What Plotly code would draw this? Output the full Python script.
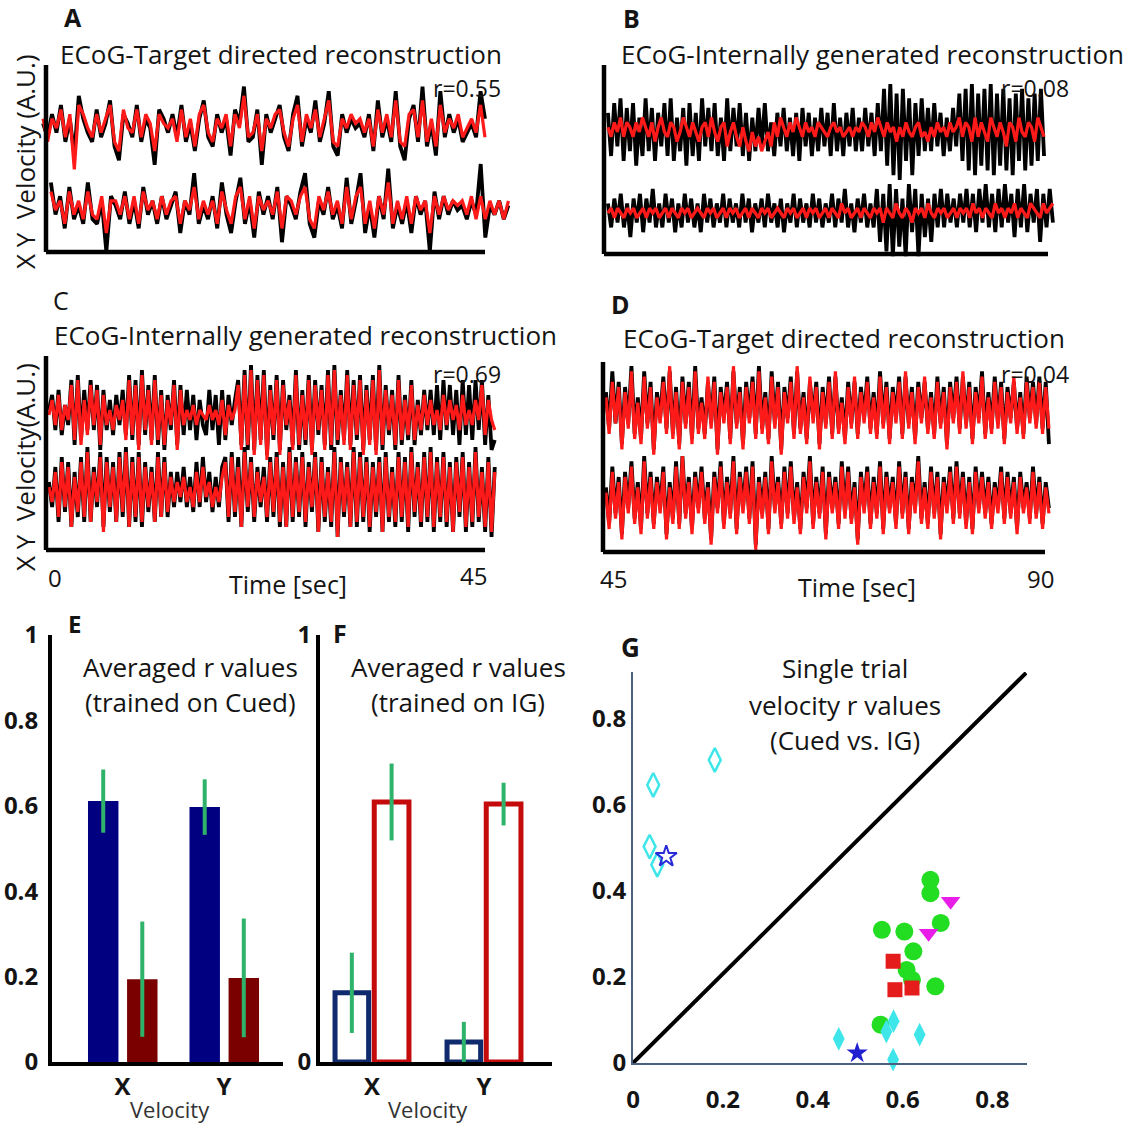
import numpy as np
import plotly.graph_objects as go

W = H = 1124
FONT = "Open Sans"
INK = "#141414"
TRACE_RED = "#ff1a1a"

# ---------------- Panel A: target directed (decoder trained on cued) ----------------
a_x_actual = [1,-2,3,-1,5,-3,2,-6,7,2,-1,-3,4,-2,1,6,-4,-7,3,1,-2,5,-3,2,0,-8,4,2,-1,3,
              -2,5,-3,1,-5,2,6,-2,-4,3,-1,2,-6,4,1,9,-3,-2,4,-8,3,-1,2,5,-2,-5,3,7,-4,2,
              -1,6,-3,1,8,-4,-6,3,-1,2,0,1,-2,3,-5,6,-2,2,-3,8,-4,-7,2,5,-3,9,-4,1,-6,8,
              -2,3,-1,2,-3,-1,1,-2,8,2]
a_x_recon = [2,-3,2,0,4,-2,3,-9,5,3,0,-2,3,-1,2,5,-3,-5,4,0,-1,4,-2,3,1,-5,3,1,0,2,
             -3,4,-2,2,-4,3,5,-1,-3,2,0,3,-4,3,0,7,-2,-1,3,-5,2,0,3,4,-1,-4,2,5,-3,3,
             0,4,-2,2,6,-3,-4,2,0,3,1,2,-1,2,-4,4,-1,3,-2,6,-3,-4,3,4,-2,6,-3,2,-4,5,
             -1,2,0,3,-2,0,2,-1,5,-2]
a_y_actual = [6,-1,3,-4,5,-2,1,-3,6,-2,-3,2,-9,3,1,-2,4,-3,2,-4,5,-1,2,-3,3,-2,1,4,-5,2,
              -1,8,-3,1,-2,3,-4,6,-1,-5,2,7,-3,2,-6,4,-1,3,-2,5,-7,3,1,-2,4,8,-3,-6,2,-1,
              5,-2,1,-4,7,-3,2,8,-5,1,-6,3,-2,9,-4,1,-3,2,-5,3,-1,2,-9,4,-2,3,-1,2,0,1,
              -2,2,-1,10,-6,1,-1,2,-2,1]
a_y_recon = [4,0,2,-3,4,-1,2,-2,4,-1,-2,3,-5,2,2,-1,3,-2,3,-3,4,0,2,-2,3,-1,2,3,-3,2,
             0,5,-2,2,-1,2,-3,4,0,-3,3,5,-2,3,-4,3,0,2,-1,4,-4,3,2,-1,3,5,-2,-4,3,0,
             4,-1,2,-3,5,-2,3,5,-3,2,-4,3,-1,6,-3,2,-2,3,-3,3,0,2,-5,3,-1,3,0,2,1,2,
             -1,3,-2,3,-2,2,-1,2,-2,2]

# ---------------- Panel B: internally generated (decoder trained on cued) ----------------
b_x_actual = [4,-5,6,-3,7,-6,5,-4,6,-7,3,-5,7,-4,5,-6,4,-3,6,-5,7,-6,3,-4,5,-7,6,-5,4,-6,
              7,-3,5,-4,6,-5,3,-6,7,-4,5,-3,6,-5,4,-6,3,-4,5,-3,6,-4,2,-5,4,-3,5,-4,3,-5,
              4,-6,5,-3,4,-5,3,-4,5,-3,4,-5,6,-4,3,-5,4,-3,5,-4,3,-4,5,-3,
              4,-5,6,-4,9,-7,10,-9,8,-10,9,-6,7,-9,6,-5,7,-4,5,-4,6,
              -3,4,-5,3,-4,5,-3,
              8,-6,9,-8,10,-9,8,-7,9,-8,10,-9,8,-7,9,-8,7,-9,8,-6,9,-8,7,-7,8,-6,9,-5]
b_x_recon = [1,-1,2,0,3,-1,2,1,-1,2,0,3,1,-1,2,-2,1,3,0,-1,2,1,-2,0,3,1,-1,2,0,-2,
             1,2,-1,3,0,-2,1,2,-3,0,2,-1,-3,1,-2,-4,0,-3,-1,-4,-2,0,-3,2,-1,3,1,-1,2,0,
             3,1,-1,2,0,1,-1,2,1,0,-1,1,2,0,1,-1,0,1,-1,1,0,2,1,-1,
             2,0,3,1,-1,2,0,1,-2,1,-1,2,0,-1,1,2,-1,0,-2,1,-1,
             2,0,1,-1,2,0,1,
             3,-1,2,1,-2,3,-1,2,0,-2,3,1,-1,2,0,-3,2,1,-2,3,0,-1,2,1,-2,3,1,-1]
b_y_actual = [2,-3,3,-2,4,-3,2,-5,3,-2,4,-4,3,-2,5,-3,2,-3,4,-2,3,-4,2,-3,4,-2,3,-3,2,-4,
              4,-2,3,-3,2,-2,4,-3,3,-2,2,-3,4,-2,3,-4,2,-2,3,-3,4,-2,2,-3,3,-4,2,-2,4,-3,
              3,-2,2,-3,4,-2,3,-3,2,-2,4,-3,3,-2,5,-3,2,-4,3,-2,4,-3,2,-3,
              5,-6,4,-8,6,-9,5,-7,3,-9,6,-4,5,-9,4,-5,3,-6,4,-3,5,
              -3,4,-2,3,-3,4,-2,
              5,-3,4,-4,5,-2,6,-3,4,-4,5,-3,6,-2,4,-5,5,-3,6,-4,4,-2,5,-6,4,-3,5,-2]
b_y_recon = [0,1,-1,1,0,-1,1,0,1,-1,0,1,-1,1,0,1,-1,0,1,-1,1,0,-1,1,0,1,-1,0,1,0,
             -1,1,0,1,-1,0,1,-1,1,0,1,-1,0,1,-1,1,0,-1,1,0,1,-1,0,1,0,-1,1,0,1,-1,
             0,1,-1,1,0,1,-1,0,1,-1,1,0,-1,2,0,1,-1,0,1,-1,1,0,-1,1,
             0,1,-2,1,0,-1,2,0,-1,1,0,-2,1,0,1,-1,2,0,-1,1,0,
             1,-1,0,1,-1,1,0,
             1,-1,2,0,1,-1,1,0,-1,2,0,1,-1,1,0,2,-1,1,0,-1,2,1,0,-1,2,0,1,2]

# ---------------- Panel C: internally generated (decoder trained on IG) ----------------
c_x_actual = [1,4,-3,5,-4,2,-2,
              7,-6,8,-5,5,-3,7,-3,6,-7,5,-3,3,-4,4,-2,5,-4,8,-5,7,-6,9,-4,6,-5,8,-6,5,-7,4,-3,7,-6,6,
              -4,5,-3,4,-5,3,-2,-4,5,-3,4,-6,5,-5,4,-2,3,
              7,-6,9,-7,10,-7,8,-5,9,-8,6,-5,8,-7,7,-3,4,-6,9,-7,5,-6,8,-7,7,-4,6,-6,9,-7,
              10,-6,5,-5,9,-6,7,-5,8,-7,6,-5,8,-7,10,-7,6,-4,5,-7,8,-6,4,-5,7,-6,3,-4,5,-3,
              5,-4,6,-5,7,-3,6,-4,5,-6,7,-4,6,-5,7,-3,7,-6,4,-7,-5]
c_x_recon = [0,3,-2,4,-3,2,-1,
             6,-5,7,-6,3,-4,6,-2,5,-6,4,-2,1,-3,2,-1,3,-5,7,-4,6,-7,8,-3,5,-6,7,-5,4,-6,3,-2,6,-7,5,
             -2,1,-1,2,-2,1,0,-1,2,-1,1,-2,3,-4,2,-1,1,
             6,-7,8,-6,9,-8,7,-6,8,-9,5,-4,7,-8,6,-2,3,-7,8,-6,4,-5,7,-8,6,-3,5,-7,8,-6,
             9,-5,4,-6,8,-7,6,-4,7,-8,5,-6,7,-8,9,-6,5,-3,4,-6,7,-5,3,-4,6,-5,2,-3,4,-2,
             3,-2,1,-3,4,-2,3,-1,2,-3,4,-2,1,-2,3,-1,6,-4,3,-1,-3]
c_y_actual = [2,-3,5,-6,7,-4,6,-7,4,-5,7,-6,9,-6,5,-3,8,-7,7,-4,6,-6,8,-5,9,-7,7,-6,8,-7,
              6,-4,5,-6,8,-5,7,-5,4,-3,
              4,-2,5,-3,3,-4,6,-3,7,-2,4,-4,3,-3,5,
              7,-6,8,-5,7,-7,9,-4,7,-6,5,-3,5,-6,7,-5,8,-7,6,-7,9,-6,7,-5,8,-7,6,-4,8,-8,
              7,-6,5,-7,9,-9,7,-5,6,-7,9,-7,8,-6,7,
              -8,6,-5,7,-8,8,-6,5,-7,8,-6,7,-8,9,-5,6,-7,8,-6,9,-8,7,-6,8,-7,6,-8,7,-5,8,
              -8,6,-7,9,-6,5,-8,7,-9,5]
c_y_recon = [1,-2,4,-5,6,-3,5,-7,3,-4,6,-5,8,-6,4,-2,7,-8,6,-3,5,-6,7,-4,8,-7,6,-5,7,-6,
             5,-3,4,-6,7,-5,6,-4,3,-2,
             2,-1,3,-2,1,-3,4,-2,5,-1,2,-3,1,-2,3,
             6,-5,7,-4,5,-7,8,-3,6,-5,4,-2,3,-5,6,-4,7,-6,5,-7,8,-5,6,-4,7,-6,5,-3,7,-8,
             6,-5,4,-6,8,-9,6,-4,5,-7,8,-6,7,-5,6,
             -7,5,-4,6,-8,7,-5,4,-6,7,-5,6,-7,8,-4,5,-6,7,-5,8,-7,6,-5,7,-6,5,-8,6,-4,7,
             -7,5,-6,8,-5,4,-7,6,-8,4]

# ---------------- Panel D: target directed (decoder trained on IG) ----------------
d_x_actual = [4,-3,8,-2,6,-6,5,-2,9,-4,3,-5,8,-2,6,-7,4,-1,7,-3,8,-4,5,-6,7,-2,6,-5,9,-3,
              3,-4,6,-2,7,-7,5,-1,6,-5,8,-2,5,-6,6,-1,7,-4,9,-3,4,-5,8,-2,6,-7,5,-1,7,-4,
              8,-3,4,-5,6,-1,6,-6,5,-2,7,-4,7,-3,3,-5,6,-2,6,-4,5,-1,7,-3,4,-4,8,-2,6,-5,
              5,-1,7,-4,7,-2,5,-5,6,-1,6,-3,4,-4,7,-2,5,-6,6,-1,7,-3,7,-2,6,-5,5,-1,8,-4,
              4,-3,7,-2,6,-5,5,-1,6,-3,4,-4,7,-1,6,-2,7,-3,6,-6]
d_x_recon = [3,-4,6,-2,5,-7,4,-3,8,-5,2,-6,7,-3,5,-8,3,-2,6,-4,9,-5,4,-7,6,-3,5,-6,8,-4,
             2,-5,7,-3,6,-8,4,-2,5,-6,9,-3,4,-7,5,-2,6,-5,8,-4,3,-6,7,-3,5,-8,4,-2,6,-5,
             9,-4,3,-6,7,-2,5,-7,4,-3,6,-5,8,-4,2,-6,5,-3,7,-5,4,-2,6,-4,3,-5,7,-3,5,-6,
             4,-2,6,-5,8,-3,4,-6,5,-2,7,-4,3,-5,6,-3,4,-7,5,-2,6,-4,8,-3,5,-6,4,-2,7,-5,
             3,-4,6,-3,5,-6,4,-2,7,-4,3,-5,6,-2,5,-3,6,-4,5,-3]
d_y_actual = [3,-4,7,-2,5,-6,6,-1,8,-3,4,-5,9,-2,6,-4,5,-1,7,-6,4,-3,8,-4,9,-2,5,-5,6,-1,
              7,-3,4,-7,6,-1,8,-4,5,-2,9,-5,6,-1,7,-3,8,-8,5,-2,6,-5,9,-1,5,-4,7,-2,8,-3,
              4,-5,6,-1,9,-4,5,-2,7,-6,6,-1,5,-4,8,-2,7,-3,4,-7,6,-1,7,-4,5,-2,8,-5,6,-1,
              5,-4,8,-2,6,-5,5,-1,9,-3,4,-4,7,-2,6,-6,5,-1,7,-3,8,-2,6,-4,5,-5,7,-1,6,-2,
              5,-4,4,-1,7,-3,6,-2,5,-5,6,-1,4,-3,7,-2,5,-4,4,-1]
d_y_recon = [2,-5,6,-3,4,-7,5,-2,7,-4,3,-6,8,-3,5,-5,4,-2,6,-7,3,-4,7,-5,9,-3,4,-6,5,-2,
             6,-4,3,-8,5,-2,7,-5,4,-3,8,-6,5,-2,6,-4,7,-9,4,-3,5,-6,8,-2,4,-5,6,-3,7,-4,
             3,-6,5,-2,8,-5,4,-3,6,-7,5,-2,4,-5,7,-3,6,-4,3,-8,5,-2,6,-5,4,-3,7,-6,5,-2,
             4,-5,7,-3,5,-6,4,-2,8,-4,3,-5,6,-3,5,-7,4,-2,6,-4,7,-3,5,-5,4,-6,6,-2,5,-3,
             4,-5,3,-2,6,-4,5,-3,4,-6,5,-2,3,-4,6,-3,4,-5,3,-2]

# ---------------- Panels E / F: averaged r values ----------------
velocity_labels = ["X", "Y"]
e_cued_mean = [0.611, 0.597]      # trained on cued, tested on cued
e_cued_err = [0.074, 0.065]
e_ig_mean = [0.194, 0.197]        # trained on cued, tested on IG
e_ig_err = [0.135, 0.139]
f_cued_mean = [0.162, 0.047]      # trained on IG, tested on cued
f_cued_err = [0.094, 0.047]
f_ig_mean = [0.609, 0.604]        # trained on IG, tested on IG
f_ig_err = [0.09, 0.05]
bar_ticks = [0, 0.2, 0.4, 0.6, 0.8, 1]
bar_ticktext = ["0", "0.2", "0.4", "0.6", "0.8", "1"]

# ---------------- Panel G: single-trial r values (Cued vs. IG) ----------------
g_open_diamond_x = [0.045, 0.182, 0.037, 0.054]
g_open_diamond_y = [0.645, 0.703, 0.502, 0.460]
g_open_star_x = [0.074]
g_open_star_y = [0.479]
g_circle_x = [0.662, 0.662, 0.685, 0.554, 0.604, 0.624, 0.609, 0.621, 0.673, 0.551]
g_circle_y = [0.425, 0.394, 0.325, 0.309, 0.305, 0.259, 0.216, 0.193, 0.178, 0.089]
g_triangle_x = [0.707, 0.658]
g_triangle_y = [0.375, 0.301]
g_square_x = [0.579, 0.583, 0.621]
g_square_y = [0.236, 0.170, 0.174]
g_diamond_x = [0.458, 0.580, 0.564, 0.638, 0.579]
g_diamond_y = [0.056, 0.097, 0.073, 0.066, 0.008]
g_star_x = [0.499]
g_star_y = [0.023]
g_diag_x = [0, 0.875]
g_diag_y = [0, 0.905]
g_ticks = [0, 0.2, 0.4, 0.6, 0.8]
g_ticktext = ["0", "0.2", "0.4", "0.6", "0.8"]


def px(x):
    return x / W


def py(y):
    return 1 - y / H


fig = go.Figure()
layout = dict(
    width=W, height=H,
    margin=dict(l=0, r=0, t=0, b=0, pad=0, autoexpand=False),
    paper_bgcolor="white", plot_bgcolor="rgba(0,0,0,0)",
    showlegend=False, font=dict(family=FONT, color=INK),
)
shapes = []
annotations = []


def note(text, x, y, size=22, bold=False, xanchor="center", yanchor="middle", angle=0, color=INK):
    if bold:
        text = "<b>%s</b>" % text
    annotations.append(dict(
        text=text, x=px(x), y=py(y), xref="paper", yref="paper", showarrow=False,
        xanchor=xanchor, yanchor=yanchor, textangle=angle,
        font=dict(family=FONT, size=size, color=color),
    ))


# trace panels: axis box in px, time span, baselines, px per unit, sample spans, data
trace_panels = [
    dict(i=1, l=46, r=485, top=65, bot=252, t0=0, t1=45, xb=128, yb=210, unit=4.6,
         xspan=(-0.3, 45.0), yspan=(0.5, 47.4),
         xa=a_x_actual, xr=a_x_recon, ya=a_y_actual, yr=a_y_recon),
    dict(i=2, l=604, r=1048, top=65, bot=254, t0=0, t1=45, xb=132, yb=213, unit=4.8,
         xspan=(0.4, 44.6), yspan=(0.4, 45.5),
         xa=b_x_actual, xr=b_x_recon, ya=b_y_actual, yr=b_y_recon),
    dict(i=3, l=46, r=485, top=356, bot=550, t0=0, t1=45, xb=415, yb=492, unit=5.0,
         xspan=(0.3, 46.0), yspan=(0.3, 46.0),
         xa=c_x_actual, xr=c_x_recon, ya=c_y_actual, yr=c_y_recon),
    dict(i=4, l=603, r=1045, top=362, bot=552, t0=45, t1=90, xb=413, yb=503, unit=5.2,
         xspan=(45.3, 90.4), yspan=(45.3, 90.4),
         xa=d_x_actual, xr=d_x_recon, ya=d_y_actual, yr=d_y_recon),
]

for p in trace_panels:
    i = p["i"]
    sfx = "" if i == 1 else str(i)
    s = (p["r"] - p["l"]) / (p["t1"] - p["t0"])
    pad_l, pad_r = 20, 40
    height = p["bot"] - p["top"]
    layout["xaxis" + sfx] = dict(
        domain=[px(p["l"] - pad_l), px(p["r"] + pad_r)],
        range=[p["t0"] - pad_l / s, p["t1"] + pad_r / s],
        visible=False, anchor="y" + sfx, automargin=False,
    )
    layout["yaxis" + sfx] = dict(
        domain=[py(p["bot"] + 12), py(p["top"] - 12)],
        range=[-12, height + 12], visible=False, anchor="x" + sfx, automargin=False,
    )
    for key_a, key_r, base, span in (("xa", "xr", p["xb"], p["xspan"]), ("ya", "yr", p["yb"], p["yspan"])):
        off = p["bot"] - base
        for key, col, w in ((key_a, "black", 3.8), (key_r, TRACE_RED, 3.2)):
            vals = np.asarray(p[key], dtype=float)
            t = np.linspace(span[0], span[1], len(vals))
            fig.add_trace(go.Scatter(
                x=t, y=off + vals * p["unit"], mode="lines",
                line=dict(color=col, width=w, shape="linear"),
                xaxis="x" + sfx, yaxis="y" + sfx, hoverinfo="skip",
            ))
    # L-shaped axes
    for x0, y0, x1, y1 in ((p["t0"], 0, p["t0"], height), (p["t0"], 0, p["t1"], 0)):
        shapes.append(dict(type="line", xref="x" + sfx, yref="y" + sfx,
                           x0=x0, y0=y0, x1=x1, y1=y1,
                           line=dict(color="black", width=4.5)))

# panel texts
note("A", 73, 17, size=25, bold=True)
note("ECoG-Target directed reconstruction", 58, 54, size=26, xanchor="left")
note("r=0.55", 503, 88, size=23, xanchor="right")
note("X Y\u00a0\u00a0Velocity (A.U.)", 25, 162, size=26, angle=-90)

note("B", 631, 18, size=25, bold=True)
note("ECoG-Internally generated reconstruction", 619, 54, size=26, xanchor="left")
note("r=0.08", 1071, 88, size=23, xanchor="right")

note("C", 61, 300, size=25)
note("ECoG-Internally generated reconstruction", 52, 335, size=26, xanchor="left")
note("r=0.69", 503, 374, size=23, xanchor="right")
note("X Y\u00a0\u00a0Velocity(A.U.)", 25, 467, size=26, angle=-90)
note("0", 55, 577, size=24)
note("45", 473, 575, size=24)
note("Time [sec]", 288, 584, size=25)

note("D", 620, 304, size=25, bold=True)
note("ECoG-Target directed reconstruction", 621, 338, size=26, xanchor="left")
note("r=0.04", 1071, 374, size=23, xanchor="right")
note("45", 613, 578, size=24)
note("90", 1040, 578, size=24)
note("Time [sec]", 857, 587, size=25)

# ---------------- bar panels E and F ----------------
green = "#2fb36a"
bar_panels = [
    dict(i=5, l=52, r=283, cx=(122.5, 224.0), ticks=bar_ticks, ticktext=bar_ticktext, standoff=5),
    dict(i=6, l=320, r=552, cx=(372.0, 484.0), ticks=[0, 1], ticktext=["0", "1"], standoff=0),
]
for bp in bar_panels:
    sfx = str(bp["i"])
    unit = bp["cx"][1] - bp["cx"][0]
    lo = (bp["l"] - bp["cx"][0]) / unit
    hi = (bp["r"] - bp["cx"][0]) / unit
    layout["xaxis" + sfx] = dict(
        domain=[px(bp["l"]), px(bp["r"])], range=[lo, hi], anchor="y" + sfx,
        showline=True, linecolor="black", linewidth=4, showgrid=False, zeroline=False,
        tickvals=[0, 1], ticktext=velocity_labels, ticks="", ticklabelstandoff=0,
        tickfont=dict(family=FONT, size=24, color=INK, weight="bold"), automargin=False,
    )
    layout["yaxis" + sfx] = dict(
        domain=[py(1062), py(635)], range=[0, 1], anchor="x" + sfx,
        showline=True, linecolor="black", linewidth=4, showgrid=False, zeroline=False,
        tickvals=bp["ticks"], ticktext=bp["ticktext"], ticks="", ticklabelstandoff=bp["standoff"],
        tickfont=dict(family=FONT, size=24, color=INK, weight="bold"), automargin=False,
    )

cat = [0, 1]
# E: filled bars
fig.add_trace(go.Bar(x=cat, y=e_cued_mean, width=0.30, offset=-0.34,
                     marker=dict(color="#000080", line=dict(width=0)),
                     xaxis="x5", yaxis="y5", hoverinfo="skip"))
fig.add_trace(go.Bar(x=cat, y=e_ig_mean, width=0.30, offset=0.045,
                     marker=dict(color="#7a0000", line=dict(width=0)),
                     xaxis="x5", yaxis="y5", hoverinfo="skip"))
# F: outlined bars
fig.add_trace(go.Bar(x=cat, y=f_cued_mean, width=0.30, offset=-0.33,
                     marker=dict(color="rgba(255,255,255,0)", line=dict(color="#102a6e", width=5)),
                     xaxis="x6", yaxis="y6", hoverinfo="skip"))
fig.add_trace(go.Bar(x=cat, y=f_ig_mean, width=0.31, offset=0.02,
                     marker=dict(color="rgba(255,255,255,0)", line=dict(color="#c40a0a", width=5)),
                     xaxis="x6", yaxis="y6", hoverinfo="skip"))

# error bars as green vertical strokes at the bar centres
for ax, means, errs, centre in (
    ("5", e_cued_mean, e_cued_err, -0.34 + 0.15),
    ("5", e_ig_mean, e_ig_err, 0.045 + 0.15),
    ("6", f_cued_mean, f_cued_err, -0.33 + 0.15),
    ("6", f_ig_mean, f_ig_err, 0.02 + 0.155),
):
    fig.add_trace(go.Scatter(
        x=[c + centre for c in cat], y=means, mode="markers",
        marker=dict(size=1, color="rgba(0,0,0,0)"),
        error_y=dict(type="data", array=errs, color=green, thickness=4, width=0),
        xaxis="x" + ax, yaxis="y" + ax, hoverinfo="skip", cliponaxis=False,
    ))

note("E", 75, 623, size=24, bold=True)
note("Averaged r values", 190, 667, size=26)
note("(trained on Cued)", 190, 702, size=26)
note("Velocity", 170, 1109, size=22, color="#333333")

note("F", 340, 633, size=25, bold=True)
note("Averaged r values", 458, 667, size=26)
note("(trained on IG)", 458, 702, size=26)
note("Velocity", 428, 1109, size=22, color="#333333")

# ---------------- scatter panel G ----------------
axis_blue = "#4d5f80"
layout["xaxis7"] = dict(
    domain=[px(633), px(1027)], range=[0, 0.877], anchor="y7",
    showline=True, linecolor=axis_blue, linewidth=2, showgrid=False, zeroline=False,
    tickvals=g_ticks, ticktext=g_ticktext, ticks="", ticklabelstandoff=14,
    tickfont=dict(family=FONT, size=24, color=INK, weight="bold"), automargin=False,
)
layout["yaxis7"] = dict(
    domain=[py(1063), py(672)], range=[0, 0.907], anchor="x7",
    showline=True, linecolor=axis_blue, linewidth=2, showgrid=False, zeroline=False,
    tickvals=g_ticks, ticktext=g_ticktext, ticks="", ticklabelstandoff=0,
    tickfont=dict(family=FONT, size=24, color=INK, weight="bold"), automargin=False,
)
fig.add_trace(go.Scatter(x=g_diag_x, y=g_diag_y, mode="lines",
                         line=dict(color="black", width=4),
                         xaxis="x7", yaxis="y7", hoverinfo="skip", cliponaxis=False))

cyan = "#3ee6ea"
g_series = [
    (g_open_diamond_x, g_open_diamond_y, "diamond-tall-open", 17, cyan, 2.5),
    (g_open_star_x, g_open_star_y, "star-open", 16, "#2a2ad8", 2),
    (g_circle_x, g_circle_y, "circle", 18, "#22dd22", 0),
    (g_triangle_x, g_triangle_y, "triangle-down", 17, "#e81ee8", 0),
    (g_square_x, g_square_y, "square", 15, "#e51c1c", 0),
    (g_diamond_x, g_diamond_y, "diamond-tall", 17, cyan, 0),
    (g_star_x, g_star_y, "star", 16, "#2020d0", 0),
]
for xs, ys, sym, size, col, lw in g_series:
    fig.add_trace(go.Scatter(
        x=xs, y=ys, mode="markers",
        marker=dict(symbol=sym, size=size, color=col, line=dict(color=col, width=lw)),
        xaxis="x7", yaxis="y7", hoverinfo="skip", cliponaxis=False,
    ))

note("G", 630, 647, size=26, bold=True)
note("Single trial", 845, 668, size=26)
note("velocity r values", 845, 705, size=26)
note("(Cued vs. IG)", 845, 740, size=26)

layout["shapes"] = shapes
layout["annotations"] = annotations
fig.update_layout(**layout)
fig.write_html("out.html")
